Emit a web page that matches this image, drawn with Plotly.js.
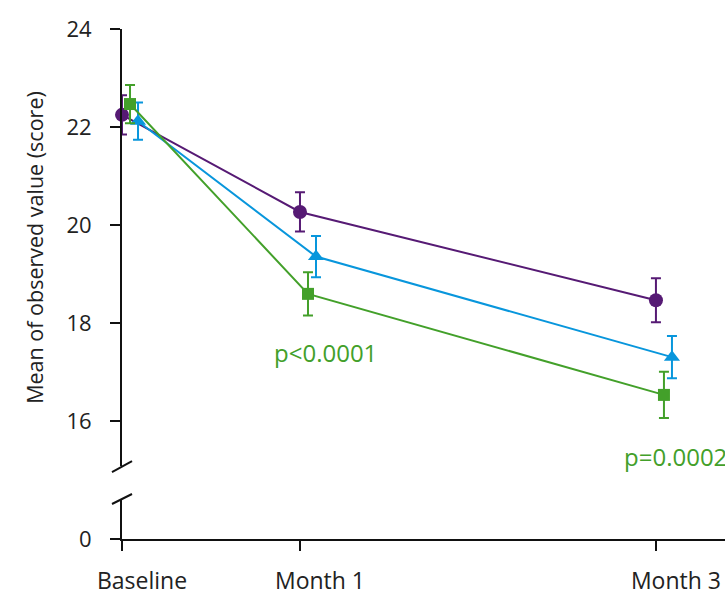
<!DOCTYPE html>
<html>
<head>
<meta charset="utf-8">
<script src="https://cdn.plot.ly/plotly-3.0.1.min.js"></script>
<style>html,body{margin:0;padding:0;background:#fff;}#chart{width:725px;height:593px;}</style>
</head>
<body>
<div id="chart"></div>
<script>
// Time points (months) and tick labels
const timepoints = [0, 1, 3];
const tickLabels = ["Baseline", "Month 1", "Month 3"];

// Horizontal offsets (months) used in the original to separate the series
const offsetPurple = [0, 0, 0];
const offsetGreen = [0.045, 0.045, 0.045];
const offsetBlue = [0.09, 0.09, 0.09];

// Means and error (±) per series
const purpleMean = [22.25, 20.27, 18.47];
const purpleErr  = [0.40, 0.40, 0.45];
const greenMean  = [22.47, 18.60, 16.54];
const greenErr   = [0.39, 0.44, 0.47];
const blueMean   = [22.12, 19.36, 17.31];
const blueErr    = [0.38, 0.42, 0.43];

// p-value labels
const pLabels = ["p<0.0001", "p=0.0002"];
const pLabelX = [1.145, 2.81];
const pLabelY = [17.40, 15.28];

const purple = "#561a74";
const green = "#43a02a";
const blue = "#0896dc";
const FONT = "Open Sans, Noto Sans, sans-serif";

function xs(off) { return timepoints.map((t, i) => t + off[i]); }

function series(mean, err, off, color, symbol, size) {
  return {
    type: "scatter", mode: "lines+markers",
    x: xs(off), y: mean, xaxis: "x", yaxis: "y",
    cliponaxis: false,
    line: {color: color, width: 2},
    marker: {color: color, symbol: symbol, size: size},
    error_y: {type: "data", array: err, visible: true, color: color, thickness: 2, width: 5},
    showlegend: false, hoverinfo: "skip"
  };
}

const traces = [
  series(purpleMean, purpleErr, offsetPurple, purple, "circle", 14),
  series(blueMean, blueErr, offsetBlue, blue, "triangle-up", 14),
  series(greenMean, greenErr, offsetGreen, green, "square", 12),
  // empty trace so the lower (broken) axis segment exists
  {type: "scatter", mode: "markers", x: [null], y: [null], xaxis: "x", yaxis: "y2", showlegend: false, hoverinfo: "skip"}
];

const tickFont = {family: FONT, size: 22, color: "#222"};

const layout = {
  width: 725, height: 593,
  margin: {l: 122, r: 0, t: 29, b: 54},
  paper_bgcolor: "#fff", plot_bgcolor: "#fff",
  showlegend: false,
  xaxis: {
    range: [0, 3.388], anchor: "y2",
    tickvals: timepoints, ticktext: tickLabels,
    showline: true, linecolor: "#111", linewidth: 2,
    ticks: "outside", ticklen: 10, tickwidth: 2, tickcolor: "#111",
    showgrid: false, zeroline: false,
    tickfont: {family: FONT, size: 23, color: "#222"}, ticklabelstandoff: 10, ticklabelshift: 20
  },
  yaxis: {
    domain: [0.1431, 1], range: [15.09, 24], anchor: "x",
    tickvals: [16, 18, 20, 22, 24],
    showline: true, linecolor: "#111", linewidth: 2,
    ticks: "outside", ticklen: 10, tickwidth: 2, tickcolor: "#111",
    showgrid: false, zeroline: false,
    tickfont: tickFont, ticklabelstandoff: 14,
    title: {text: "Mean of observed value (score)", font: {family: FONT, size: 21.5, color: "#222"}, standoff: 17}
  },
  yaxis2: {
    domain: [0, 0.0784], range: [0, 1], anchor: "x",
    tickvals: [0], ticktext: ["0"],
    showline: true, linecolor: "#111", linewidth: 2,
    ticks: "outside", ticklen: 10, tickwidth: 2, tickcolor: "#111",
    showgrid: false, zeroline: false,
    tickfont: tickFont, ticklabelstandoff: 14
  },
  shapes: [
    {type: "line", xref: "paper", yref: "paper", x0: -0.0166, x1: 0.0166, y0: 0.1312, y1: 0.1528, line: {color: "#111", width: 2}},
    {type: "line", xref: "paper", yref: "paper", x0: -0.0166, x1: 0.0166, y0: 0.0686, y1: 0.0882, line: {color: "#111", width: 2}}
  ],
  annotations: pLabels.map((t, i) => ({
    text: t, x: pLabelX[i], y: pLabelY[i], xref: "x", yref: "y",
    xanchor: i === 0 ? "center" : "left", yanchor: "middle",
    showarrow: false,
    font: {family: FONT, size: 24, color: green}
  }))
};

Plotly.newPlot("chart", traces, layout, {displayModeBar: false, staticPlot: true});
</script>
</body>
</html>
